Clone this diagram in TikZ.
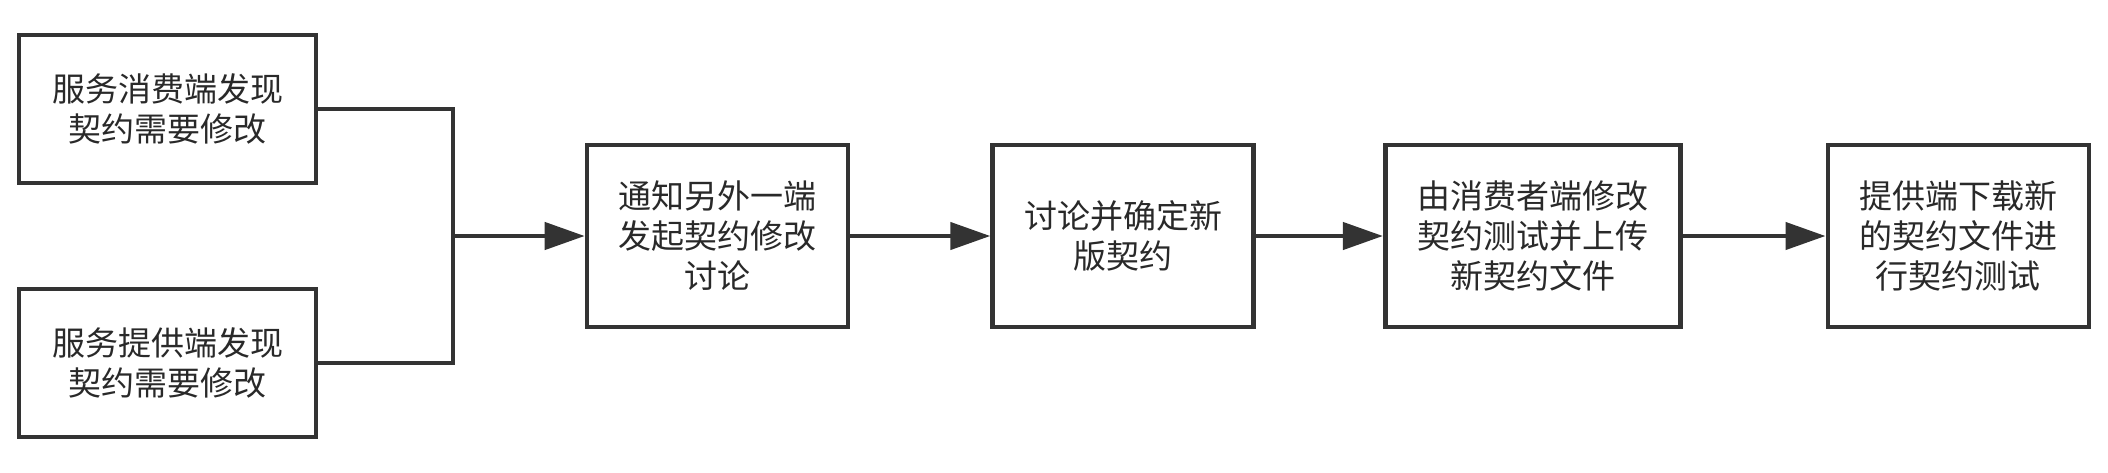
\documentclass[tikz,border=0pt]{standalone}
\usepackage{fontspec}
\newfontfamily\cjk{Noto Sans CJK SC}
\usetikzlibrary{positioning, arrows.meta}
\definecolor{linegray}{HTML}{333333}

\begin{document}
\begin{tikzpicture}[x=1pt,y=1pt,node distance=70pt,
    box/.style={draw=linegray, line width=2.3pt, align=center, inner sep=0pt,
      font=\cjk\fontsize{16.5}{20}\selectfont, text=linegray!80!black},
    wide/.style={box, minimum width=148.5pt, minimum height=74pt},
    mid/.style={box, minimum width=130.5pt, minimum height=91pt},
    link/.style={draw=linegray, line width=2.2pt},
    flow/.style={link, -{Triangle[length=20pt,width=13.5pt]}}]
  \useasboundingbox (0,0) rectangle (1054,-236);

  \node[wide] (consumer) at (83.75,-54.5) {服务消费端发现\\契约需要修改};
  \node[wide] (provider) at (83.75,-181.5) {服务提供端发现\\契约需要修改};
  \node[mid] (notify) at (358.75,-118) {通知另外一端\\发起契约修改\\讨论};
  \node[mid] (agree) [right=70pt of notify] {讨论并确定新\\版契约};
  \node[box, minimum width=147.5pt, minimum height=91pt] (upload) [right=63.5pt of agree] {由消费者端修改\\契约测试并上传\\新契约文件};
  \node[mid] (verify) [right=71.5pt of upload] {提供端下载新\\的契约文件进\\行契约测试};

  \coordinate (join) at (226.5,-118);
  \draw[link] (consumer.east) -| (join) |- (provider.east);

  \path
    (join) edge[flow] (notify)
    (notify) edge[flow] (agree)
    (agree) edge[flow] (upload)
    (upload) edge[flow] (verify)
    ;
\end{tikzpicture}
\end{document}
